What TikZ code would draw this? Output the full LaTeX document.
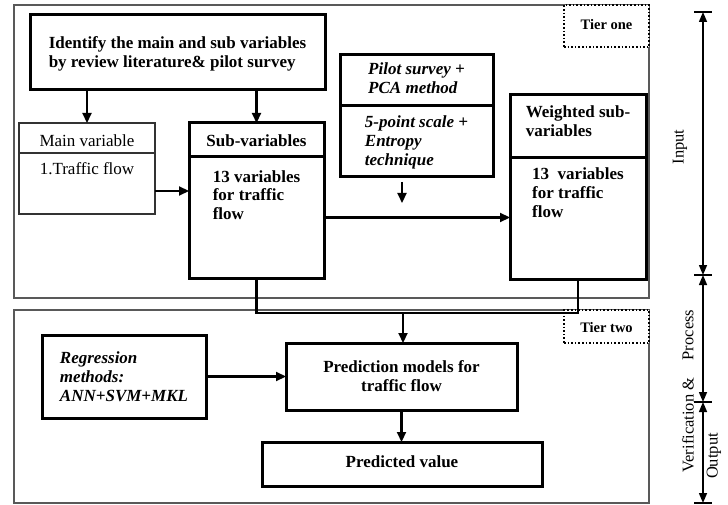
\documentclass[tikz,border=0pt]{standalone}
\usepackage{fontspec}
\setmainfont{Liberation Serif}
\usetikzlibrary{arrows.meta,positioning}
\tikzset{
  box/.style={draw, line width=3pt, outer sep=0pt, inner xsep=0pt, inner ysep=0pt,
    align=left, font=\fontsize{17}{19}\selectfont\bfseries},
  thinbox/.style={box, line width=1.5pt, draw=black!80, font=\fontsize{17}{19}\selectfont},
  itbox/.style={box, font=\fontsize{17}{19}\selectfont\bfseries\itshape},
  tb/.style n args={2}{text height=#1pt, text depth=#2pt},
  frame/.style={draw=black!65, line width=1.5pt, outer sep=0pt, inner sep=0pt},
  tierbox/.style={draw, dotted, line width=1.6pt, fill=white, outer sep=0pt,
    inner xsep=0pt, inner ysep=0pt, font=\fontsize{14.5}{16}\selectfont\bfseries},
  arrw/.style={-{Triangle[length=10pt,width=9pt]}, line width=2.2pt},
  lnk/.style={line width=2.2pt},
  axarr/.style={{Triangle[length=10pt,width=8pt]}-{Triangle[length=10pt,width=8pt]}, line width=1.5pt},
  phase/.style={rotate=90, font=\fontsize{16.5}{19}\selectfont},
}
\begin{document}
\begin{tikzpicture}[x=1pt, y=-1pt]
  \useasboundingbox (0,0) rectangle (728,505);

  % Tier frames
  \node[frame, anchor=north west, minimum width=635pt, minimum height=293pt] (tierone) at (14,5) {};
  \node[frame, anchor=north west, minimum width=635pt, minimum height=193pt] (tiertwo) at (14,310) {};
  \node[tierbox, anchor=north east, minimum width=85pt, tb={25}{17}] (tonelab) at (tierone.north east) {Tier one};
  \node[tierbox, anchor=north east, minimum width=85pt, tb={22}{11}] (ttwolab) at (tiertwo.north east) {Tier two};

  % Tier one
  \node[box, anchor=north west, minimum width=295pt, tb={53}{22}] (identify) at (30,15)
    {Identify the main and sub variables\\by review literature\& pilot survey};

  \node[thinbox, anchor=north west, minimum width=136pt, tb={24}{6}] (mainhead) at (19,123) {Main variable};
  \node[thinbox, below=0pt of mainhead, minimum width=136pt, tb={22}{39}] (mainbody) {1.Traffic flow};

  \node[box, anchor=north west, minimum width=135pt, tb={24}{10}] (subhead) at (189,123) {Sub-variables};
  \node[box, below=0pt of subhead, minimum width=135pt, tb={63}{58}] (subbody)
    {13 variables\\for traffic\\flow};

  \node[itbox, anchor=north west, minimum width=153pt, tb={39}{12}] (pilothead) at (340,55)
    {Pilot survey +\\PCA method};
  \node[itbox, below=0pt of pilothead, minimum width=153pt, tb={60}{11}] (pilotbody)
    {5-point scale +\\Entropy\\technique};

  \node[box, anchor=north west, minimum width=136pt, tb={42}{21}] (wgthead) at (510,95)
    {Weighted sub-\\variables};
  \node[box, below=0pt of wgthead, minimum width=136pt, tb={60}{61}] (wgtbody)
    {13~ variables\\for traffic\\flow};

  % Tier two
  \node[itbox, anchor=north west, minimum width=164pt, tb={66}{17}] (regr) at (42,335)
    {Regression\\methods:\\ANN+SVM+MKL};
  \node[box, anchor=north west, minimum width=231pt, align=center, tb={48}{19}] (predmod) at (286,343)
    {Prediction models for\\traffic flow};
  \node[box, anchor=north west, minimum width=280pt, tb={25}{19}] (predval) at (262,442)
    {Predicted value};

  % Connectors
  \draw[arrw] (identify.south -| mainhead.north) -- (mainhead.north);
  \draw[arrw] (identify.south -| subhead.north) -- (subhead.north);
  \draw[arrw] ([yshift=-7.5pt]mainbody.east) -- ([yshift=-7.5pt]mainbody.east -| subbody.west);
  \coordinate (pilotarr) at (402,182);
  \draw[arrw] (pilotarr) -- ++(0,21);
  \draw[arrw] (subbody.east) -- (subbody.east -| wgtbody.west);
  \coordinate (join) at (403,313);
  \draw[lnk] (subbody.south) |- (join) -| (wgtbody.south);
  \draw[arrw] (join) -- (join |- predmod.north);
  \draw[arrw] (regr) -- (predmod);
  \draw[arrw] (predmod.south) -- (predmod.south |- predval.north);

  % Phase axis
  \coordinate (t0) at (703,12);
  \coordinate (t1) at (703,275);
  \coordinate (t2) at (703,402);
  \coordinate (t3) at (703,503);
  \foreach \t in {t0,t1,t2,t3}
    \draw[line width=1.2pt] (\t) +(-9,0) -- +(9,0);
  \draw[axarr] (t0) -- (t1);
  \draw[axarr] (t1) -- (t2);
  \draw[axarr] (t2) -- (t3);
  \node[phase] (inlab) at (680,147) {Input};
  \node[phase] (proclab) at (688,335) {Process};
  \node[phase] (veriflab) at (688,425) {Verification \&};
  \node[phase] (outlab) at (714,456) {Output};
\end{tikzpicture}
\end{document}
